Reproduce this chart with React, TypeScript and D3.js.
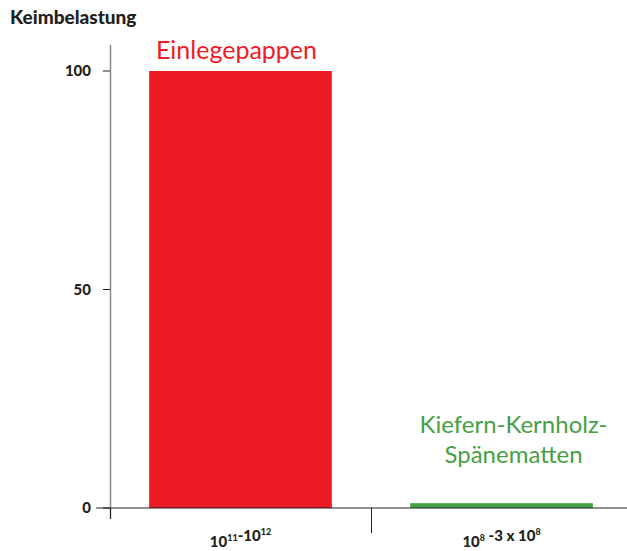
import React from "react"
import * as d3 from "d3"

// data
const categories = ["a", "b"]
const values = [100, 1.1]
const barColors = ["#ED1C24", "#46A046"]
const yTicks = [0, 50, 100]
const barLabels = [["Einlegepappen"], ["Kiefern-Kernholz-", "Spänematten"]]
const xLabels = [
  [["10", "11"], ["-10", "12"]],
  [["10", "8"], [" -3 x 10", "8"]],
]

export default function App() {
  const width = 627
  const height = 551
  const font = "Lato, 'Open Sans', sans-serif"

  const x = d3.scaleBand().domain(categories).range([110, 632]).paddingInner(0).paddingOuter(0)
  const y = d3.scaleLinear().domain([0, 100]).range([508, 71])
  const barW = x.bandwidth() * 0.7

  return (
    <svg width={width} height={height} style={{ position: "absolute", left: 0, top: 0 }}>
      <text x={10} y={24} fontFamily={font} fontWeight={900} fontSize={19} fill="#231F20">
        Keimbelastung
      </text>

      {/* y axis */}
      <line x1={110.5} x2={110.5} y1={45} y2={519} stroke="#888" strokeWidth={1.5} />
      {yTicks.map(t => (
        <g key={t}>
          <line x1={103} x2={110} y1={y(t)} y2={y(t)} stroke="#231F20" strokeWidth={1} />
          <text x={91} y={y(t) + 5} textAnchor="end" fontFamily={font} fontWeight={900} fontSize={15} fill="#231F20">
            {t}
          </text>
        </g>
      ))}

      {/* bars */}
      {categories.map((c, i) => {
        const cx = (x(c) as number) + x.bandwidth() / 2
        return (
          <g key={c}>
            <rect x={cx - barW / 2} y={y(values[i])} width={barW} height={y(0) - y(values[i])} fill={barColors[i]} />
            {barLabels[i].map((l, j) => (
              <text
                key={j}
                x={cx + (i === 1 ? 12 : -4)}
                y={(i === 0 ? 59 : 433) + j * 30}
                textAnchor="middle"
                fontFamily={font}
                fontSize={i === 0 ? 25 : 24}
                fill={barColors[i]}
              >
                {l}
              </text>
            ))}
            <text x={cx} y={547} textAnchor="middle" fontFamily={font} fontWeight={900} fontSize={15} fill="#231F20">
              {xLabels[i].map((p, k) => (
                <React.Fragment key={k}>
                  <tspan>{p[0]}</tspan>
                  <tspan fontSize={9} dy={-6}>{p[1]}</tspan>
                  <tspan dy={6}>{""}</tspan>
                </React.Fragment>
              ))}
            </text>
          </g>
        )
      })}

      {/* x axis */}
      <line x1={96} x2={627} y1={y(0)} y2={y(0)} stroke="#231F20" strokeWidth={1.2} />
      <line x1={110.5} x2={110.5} y1={y(0)} y2={519} stroke="#231F20" strokeWidth={1} />
      <line x1={(x("b") as number) + 0.5} x2={(x("b") as number) + 0.5} y1={y(0)} y2={533} stroke="#231F20" strokeWidth={1} />
    </svg>
  )
}
